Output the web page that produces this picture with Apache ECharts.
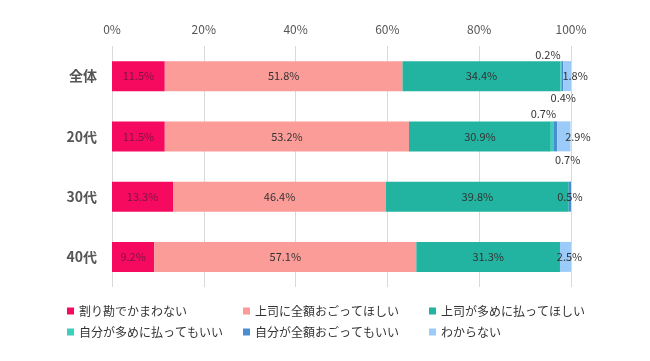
<!DOCTYPE html>
<html>
<head>
<meta charset="utf-8">
<script src="https://cdn.jsdelivr.net/npm/echarts@6/dist/echarts.min.js"></script>
<style>html,body{margin:0;padding:0;background:#fff;}#c{width:650px;height:361px;}</style>
</head>
<body>
<div id="c"></div>
<script>
var categories = ['全体', '20代', '30代', '40代'];
var seriesNames = ['割り勘でかまわない', '上司に全額おごってほしい', '上司が多めに払ってほしい', '自分が多めに払ってもいい', '自分が全額おごってもいい', 'わからない'];
var s1 = [11.5, 11.5, 13.3, 9.2];
var s2 = [51.8, 53.2, 46.4, 57.1];
var s3 = [34.4, 30.9, 39.8, 31.3];
var s4 = [0.2, 0.7, null, null];
var s5 = [0.4, 0.7, 0.5, null];
var s6 = [1.8, 2.9, null, 2.5];
var xTicks = [0, 20, 40, 60, 80, 100];

var colors = ['#F50A5F', '#FB9C98', '#22B4A0', '#3CCFBE', '#4A8ED2', '#9BCBF8'];
var allVals = [s1, s2, s3, s4, s5, s6];

// label placement for the small segments [seriesIndex][categoryIndex]
var labelPos = {
  3: {0: 'top', 1: 'top'},
  4: {0: 'bottom', 1: 'bottom'}
};
var labelShift = {
  3: {0: [-13, 0], 1: [-9, -1]},
  4: {0: [1, 0], 1: [12, 2]},
  5: {0: [8, 0], 1: [14, 0], 3: [4, 0]}
};

var series = allVals.map(function (vals, si) {
  return {
    name: seriesNames[si],
    type: 'bar',
    stack: 'total',
    barWidth: 30,
    itemStyle: {color: colors[si]},
    label: {
      show: true,
      position: 'inside',
      fontSize: 11,
      fontFamily: 'Noto Sans CJK JP',
      color: si === 0 ? '#7c1545' : '#333',
      formatter: function (p) { return p.value == null ? '' : p.value.toFixed(1) + '%'; }
    },
    labelLayout: function (p) {
      var sh = labelShift[si] && labelShift[si][p.dataIndex];
      return sh ? {dx: sh[0], dy: sh[1], hideOverlap: false} : {hideOverlap: false};
    },
    data: vals.map(function (v, ci) {
      if (v == null) return '-';
      var item = {value: v};
      if (labelPos[si] && labelPos[si][ci]) item.label = {position: labelPos[si][ci], distance: 1};
      return item;
    })
  };
});

var chart = echarts.init(document.getElementById('c'));
var legendText = {fontSize: 12, color: '#333', fontFamily: 'Noto Sans CJK JP'};
function mkLegend(left, names) {
  return {orient: 'vertical', left: left, top: 300, itemWidth: 7, itemHeight: 7, itemGap: 9, icon: 'rect', textStyle: legendText, data: names, selectedMode: false};
}
chart.setOption({
  backgroundColor: '#fff',
  animation: false,
  textStyle: {fontFamily: 'Noto Sans CJK JP'},
  legend: [
    mkLegend(62, [seriesNames[0], seriesNames[3]]),
    mkLegend(238, [seriesNames[1], seriesNames[4]]),
    mkLegend(424, [seriesNames[2], seriesNames[5]])
  ],
  grid: {left: 112, right: 79, top: 46, bottom: 74},
  xAxis: {
    type: 'value',
    position: 'top',
    min: xTicks[0],
    max: xTicks[xTicks.length - 1],
    interval: 20,
    axisLine: {show: false},
    axisTick: {show: false},
    splitLine: {lineStyle: {color: '#d9d9d9'}},
    axisLabel: {fontSize: 12, color: '#555', margin: 11, formatter: '{value}%'}
  },
  yAxis: {
    type: 'category',
    inverse: true,
    data: categories,
    axisLine: {show: false},
    axisTick: {show: false},
    axisLabel: {fontSize: 14, fontWeight: 'bold', color: '#555', margin: 15}
  },
  series: series
});
</script>
</body>
</html>
